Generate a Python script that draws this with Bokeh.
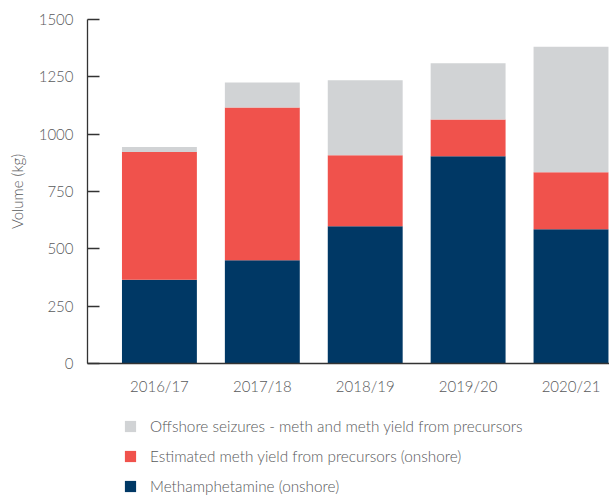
from bokeh.plotting import figure
from bokeh.models import Range1d, FixedTicker, Legend, LegendItem
from bokeh.layouts import column
from bokeh.embed import file_html
from bokeh.resources import INLINE

categories = ["2016/17", "2017/18", "2018/19", "2019/20", "2020/21"]
meth_onshore = [365, 450, 598, 904, 585]
yield_onshore = [557, 666, 310, 160, 249]
offshore = [22, 109, 327, 245, 547]
y_ticks = [0, 250, 500, 750, 1000, 1250, 1500]

series_names = ["meth_onshore", "yield_onshore", "offshore"]
series_labels = [
    "Methamphetamine (onshore)",
    "Estimated meth yield from precursors (onshore)",
    "Offshore seizures - meth and meth yield from precursors",
]
colors = ["#003865", "#F0524C", "#D1D3D5"]

FONT = "'Lato Light', Lato"
TEXT_COL = "#58595b"

xpos = list(range(len(categories)))
data = dict(x=xpos, meth_onshore=meth_onshore, yield_onshore=yield_onshore, offshore=offshore)

p = figure(width=609, height=400, output_backend="svg", toolbar_location=None,
           x_range=Range1d(-0.699, 4.374), y_range=Range1d(0, 1500),
           min_border_left=87, min_border_right=0, min_border_top=19, min_border_bottom=37)
p.outline_line_color = None
p.grid.visible = False

renderers = p.vbar_stack(series_names, x="x", width=0.728, source=data,
                         color=colors, line_color=None)

# y axis
ya = p.yaxis[0]
ya.ticker = FixedTicker(ticks=y_ticks)
ya.major_tick_in = 12
ya.major_tick_out = 0
ya.minor_tick_line_color = None
ya.axis_line_color = "#333333"
ya.axis_line_width = 1.3
ya.major_tick_line_color = "#333333"
ya.major_tick_line_width = 1.3
ya.major_label_text_font = FONT
ya.major_label_text_font_size = "15px"
ya.major_label_text_color = TEXT_COL
ya.major_label_standoff = 14
ya.axis_label = "Volume (kg)"
ya.axis_label_text_font = FONT
ya.axis_label_text_font_size = "15px"
ya.axis_label_text_font_style = "normal"
ya.axis_label_text_color = TEXT_COL
ya.axis_label_standoff = 10

# x axis
xa = p.xaxis[0]
xa.ticker = FixedTicker(ticks=xpos)
xa.major_label_overrides = {i: c for i, c in zip(xpos, categories)}
xa.major_tick_line_color = None
xa.minor_tick_line_color = None
xa.axis_line_color = "#333333"
xa.axis_line_width = 1.3
xa.major_label_text_font = FONT
xa.major_label_text_font_size = "15px"
xa.major_label_text_color = TEXT_COL
xa.major_label_standoff = 7

# legend strip below the chart (same stacked series, kept out of view; only the legend shows)
lp = figure(width=609, height=95, output_backend="svg", toolbar_location=None,
            x_range=Range1d(-0.699, 4.374), y_range=Range1d(5000, 5001),
            x_axis_location=None, y_axis_location=None,
            min_border_left=0, min_border_right=0, min_border_top=0, min_border_bottom=0)
lp.outline_line_color = None
lp.grid.visible = False
legend_renderers = lp.vbar_stack(series_names, x="x", width=0.728, source=data,
                                 color=colors, line_color=None)

items = [LegendItem(label=series_labels[i], renderers=[legend_renderers[i]]) for i in [2, 1, 0]]
legend = Legend(items=items, location=(36, 0), orientation="vertical",
                glyph_width=14, glyph_height=14, label_height=14,
                label_standoff=13, spacing=12, padding=0, margin=0,
                border_line_color=None, background_fill_alpha=0,
                label_text_font=FONT, label_text_font_size="15.3px",
                label_text_color=TEXT_COL)
lp.add_layout(legend, "center")

layout = column(p, lp, spacing=0)
open("out.html", "w").write(file_html(layout, INLINE))
